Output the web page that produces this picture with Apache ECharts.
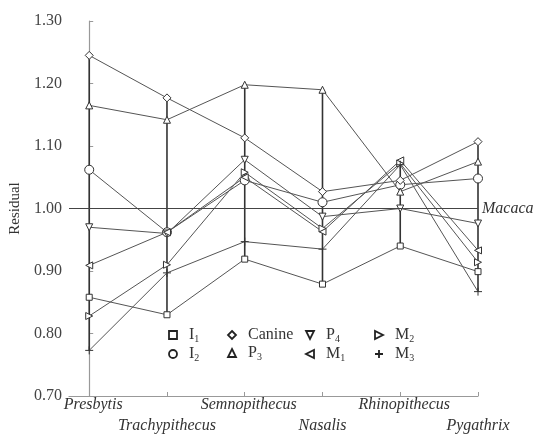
<!DOCTYPE html>
<html>
<head>
<meta charset="utf-8">
<script src="https://cdn.jsdelivr.net/npm/echarts@6/dist/echarts.min.js"></script>
<style>html,body{margin:0;padding:0;background:#fff}#c{width:538px;height:434px}</style>
</head>
<body>
<div id="c"></div>
<script>
// ---- data ----
var taxa = ['Presbytis','Trachypithecus','Semnopithecus','Nasalis','Rhinopithecus','Pygathrix'];
var yTicks = [0.70,0.80,0.90,1.00,1.10,1.20,1.30];
var I1     = [0.858, 0.830, 0.919, 0.879, 0.940, 0.899];
var I2     = [1.062, 0.962, 1.045, 1.010, 1.038, 1.048];
var Canine = [1.245, 1.177, 1.113, 1.027, 1.045, 1.107];
var P3     = [1.165, 1.142, 1.198, 1.190, 1.027, 1.075];
var P4     = [0.970, 0.960, 1.078, 0.987, 1.000, 0.976];
var M1     = [0.909, 0.962, 1.050, 0.963, 1.077, 0.933];
var M2     = [0.828, 0.910, 1.058, 0.968, 1.072, 0.914];
var M3     = [0.773, 0.897, 0.947, 0.935, 1.070, 0.867];
var reference = 1.00;
var referenceName = 'Macaca';

var SERIF = '"Liberation Serif","DejaVu Serif",serif';
var seriesDefs = [
  {name:'I1', data:I1, symbol:'rect', size:6},
  {name:'I2', data:I2, symbol:'circle', size:9},
  {name:'Canine', data:Canine, symbol:'diamond', size:8},
  {name:'P3', data:P3, symbol:'triangle', size:7},
  {name:'P4', data:P4, symbol:'path://M0,0 L10,0 L5,9 Z', size:7},
  {name:'M1', data:M1, symbol:'path://M9,0 L9,10 L0,5 Z', size:7},
  {name:'M2', data:M2, symbol:'path://M0,0 L0,10 L9,5 Z', size:7},
  {name:'M3', data:M3, symbol:'path://M5,0 L5,10 M0,5 L10,5', size:8}
];

var series = seriesDefs.map(function(d){
  return {
    name: d.name, type:'line', z:3, xAxisIndex:0,
    data: d.data.map(function(v,i){return [i,v];}),
    symbol: d.symbol, symbolSize: d.size, showAllSymbol:true,
    lineStyle:{color:'#555', width:1},
    itemStyle:{color:'#fff', borderColor:'#333', borderWidth:1},
    emphasis:{disabled:true},
    animation:false
  };
});

// range lines
var all = [I1,I2,Canine,P3,P4,M1,M2,M3];
var ranges = taxa.map(function(t,i){
  var vals = all.map(function(a){return a[i];});
  return [i, Math.min.apply(null,vals), Math.max.apply(null,vals)];
});
series.push({
  type:'custom', z:2, silent:true, animation:false, xAxisIndex:0,
  data: ranges,
  renderItem: function(params, api){
    var p1 = api.coord([api.value(0), api.value(1)]);
    var p2 = api.coord([api.value(0), api.value(2)]);
    return {type:'line', shape:{x1:p1[0],y1:p1[1],x2:p2[0],y2:p2[1]},
            style:{stroke:'#333', lineWidth:1.6}};
  }
});
// reference line
series.push({
  type:'line', data:[], z:1, silent:true, xAxisIndex:0,
  markLine:{
    silent:true, symbol:['none','none'], animation:false,
    lineStyle:{color:'#444', width:1.2, type:'solid'},
    label:{show:true, position:'end', formatter:referenceName, fontFamily:SERIF, fontStyle:'italic', fontSize:16, color:'#333', distance:4},
    data:[{yAxis:reference}]
  }
});

function legendFmt(name){
  if (name.length===2) return '{b|'+name[0]+'}{s|'+name[1]+'}';
  return '{b|'+name+'}';
}
var legendRich = {
  b:{fontFamily:SERIF, fontSize:16, color:'#333', lineHeight:18, padding:[0,0,0,6]},
  s:{fontFamily:SERIF, fontSize:10, color:'#333', lineHeight:10, verticalAlign:'bottom'}
};
var cols = [['I1','I2'],['Canine','P3'],['P4','M1'],['M2','M3']];
var colLeft = [163, 222, 300, 369];
var legends = cols.map(function(c,k){
  return {
    orient:'vertical', left:colLeft[k], top:322, itemGap:2,
    itemWidth:10, itemHeight:10, selectedMode:false,
    data:c, formatter:legendFmt,
    itemStyle:{borderWidth:1.8, borderColor:'#222', color:'#fff'},
    lineStyle:{width:0},
    textStyle:{rich:legendRich}
  };
});

var evenIdx = [0,2,4], oddIdx = [1,3,5];
var labelFont = {fontFamily:SERIF, fontStyle:'italic', fontSize:16, color:'#333'};

var chart = echarts.init(document.getElementById('c'), null, {renderer:'canvas'});
chart.setOption({
  animation:false,
  backgroundColor:'#fff',
  grid:{left:68, right:60, top:21, bottom:38, containLabel:false},
  legend: legends,
  xAxis:[{
    type:'value', min:-0.26, max:5, position:'bottom', offset:0,
    axisLine:{lineStyle:{color:'#999', width:1.2}},
    axisTick:{show:true, inside:true, length:4, customValues:[0,1,2,3,4,5], lineStyle:{color:'#999'}},
    splitLine:{show:false},
    axisLabel:Object.assign({
      customValues:evenIdx, margin:1, hideOverlap:false, padding:[0,0,0,8],
      formatter:function(v){return taxa[Math.round(v)];}
    }, labelFont)
  },{
    type:'value', min:-0.26, max:5, position:'bottom', offset:0,
    axisLine:{show:false}, axisTick:{show:false}, splitLine:{show:false},
    axisLabel:Object.assign({
      customValues:oddIdx, margin:22, hideOverlap:false,
      formatter:function(v){return taxa[Math.round(v)];}
    }, labelFont)
  }],
  yAxis:{
    type:'value', min:0.7, max:1.3, interval:0.1,
    name:'Residual', nameLocation:'middle', nameGap:46,
    nameTextStyle:{fontFamily:SERIF, fontSize:15, color:'#333'},
    axisLine:{show:true, lineStyle:{color:'#999', width:1.2}},
    axisTick:{show:true, inside:true, length:4, lineStyle:{color:'#999'}},
    splitLine:{show:false},
    axisLabel:{fontFamily:SERIF, fontSize:16, color:'#444', margin:7,
      formatter:function(v){return v.toFixed(2);}}
  },
  series: series
});
</script>
</body>
</html>
